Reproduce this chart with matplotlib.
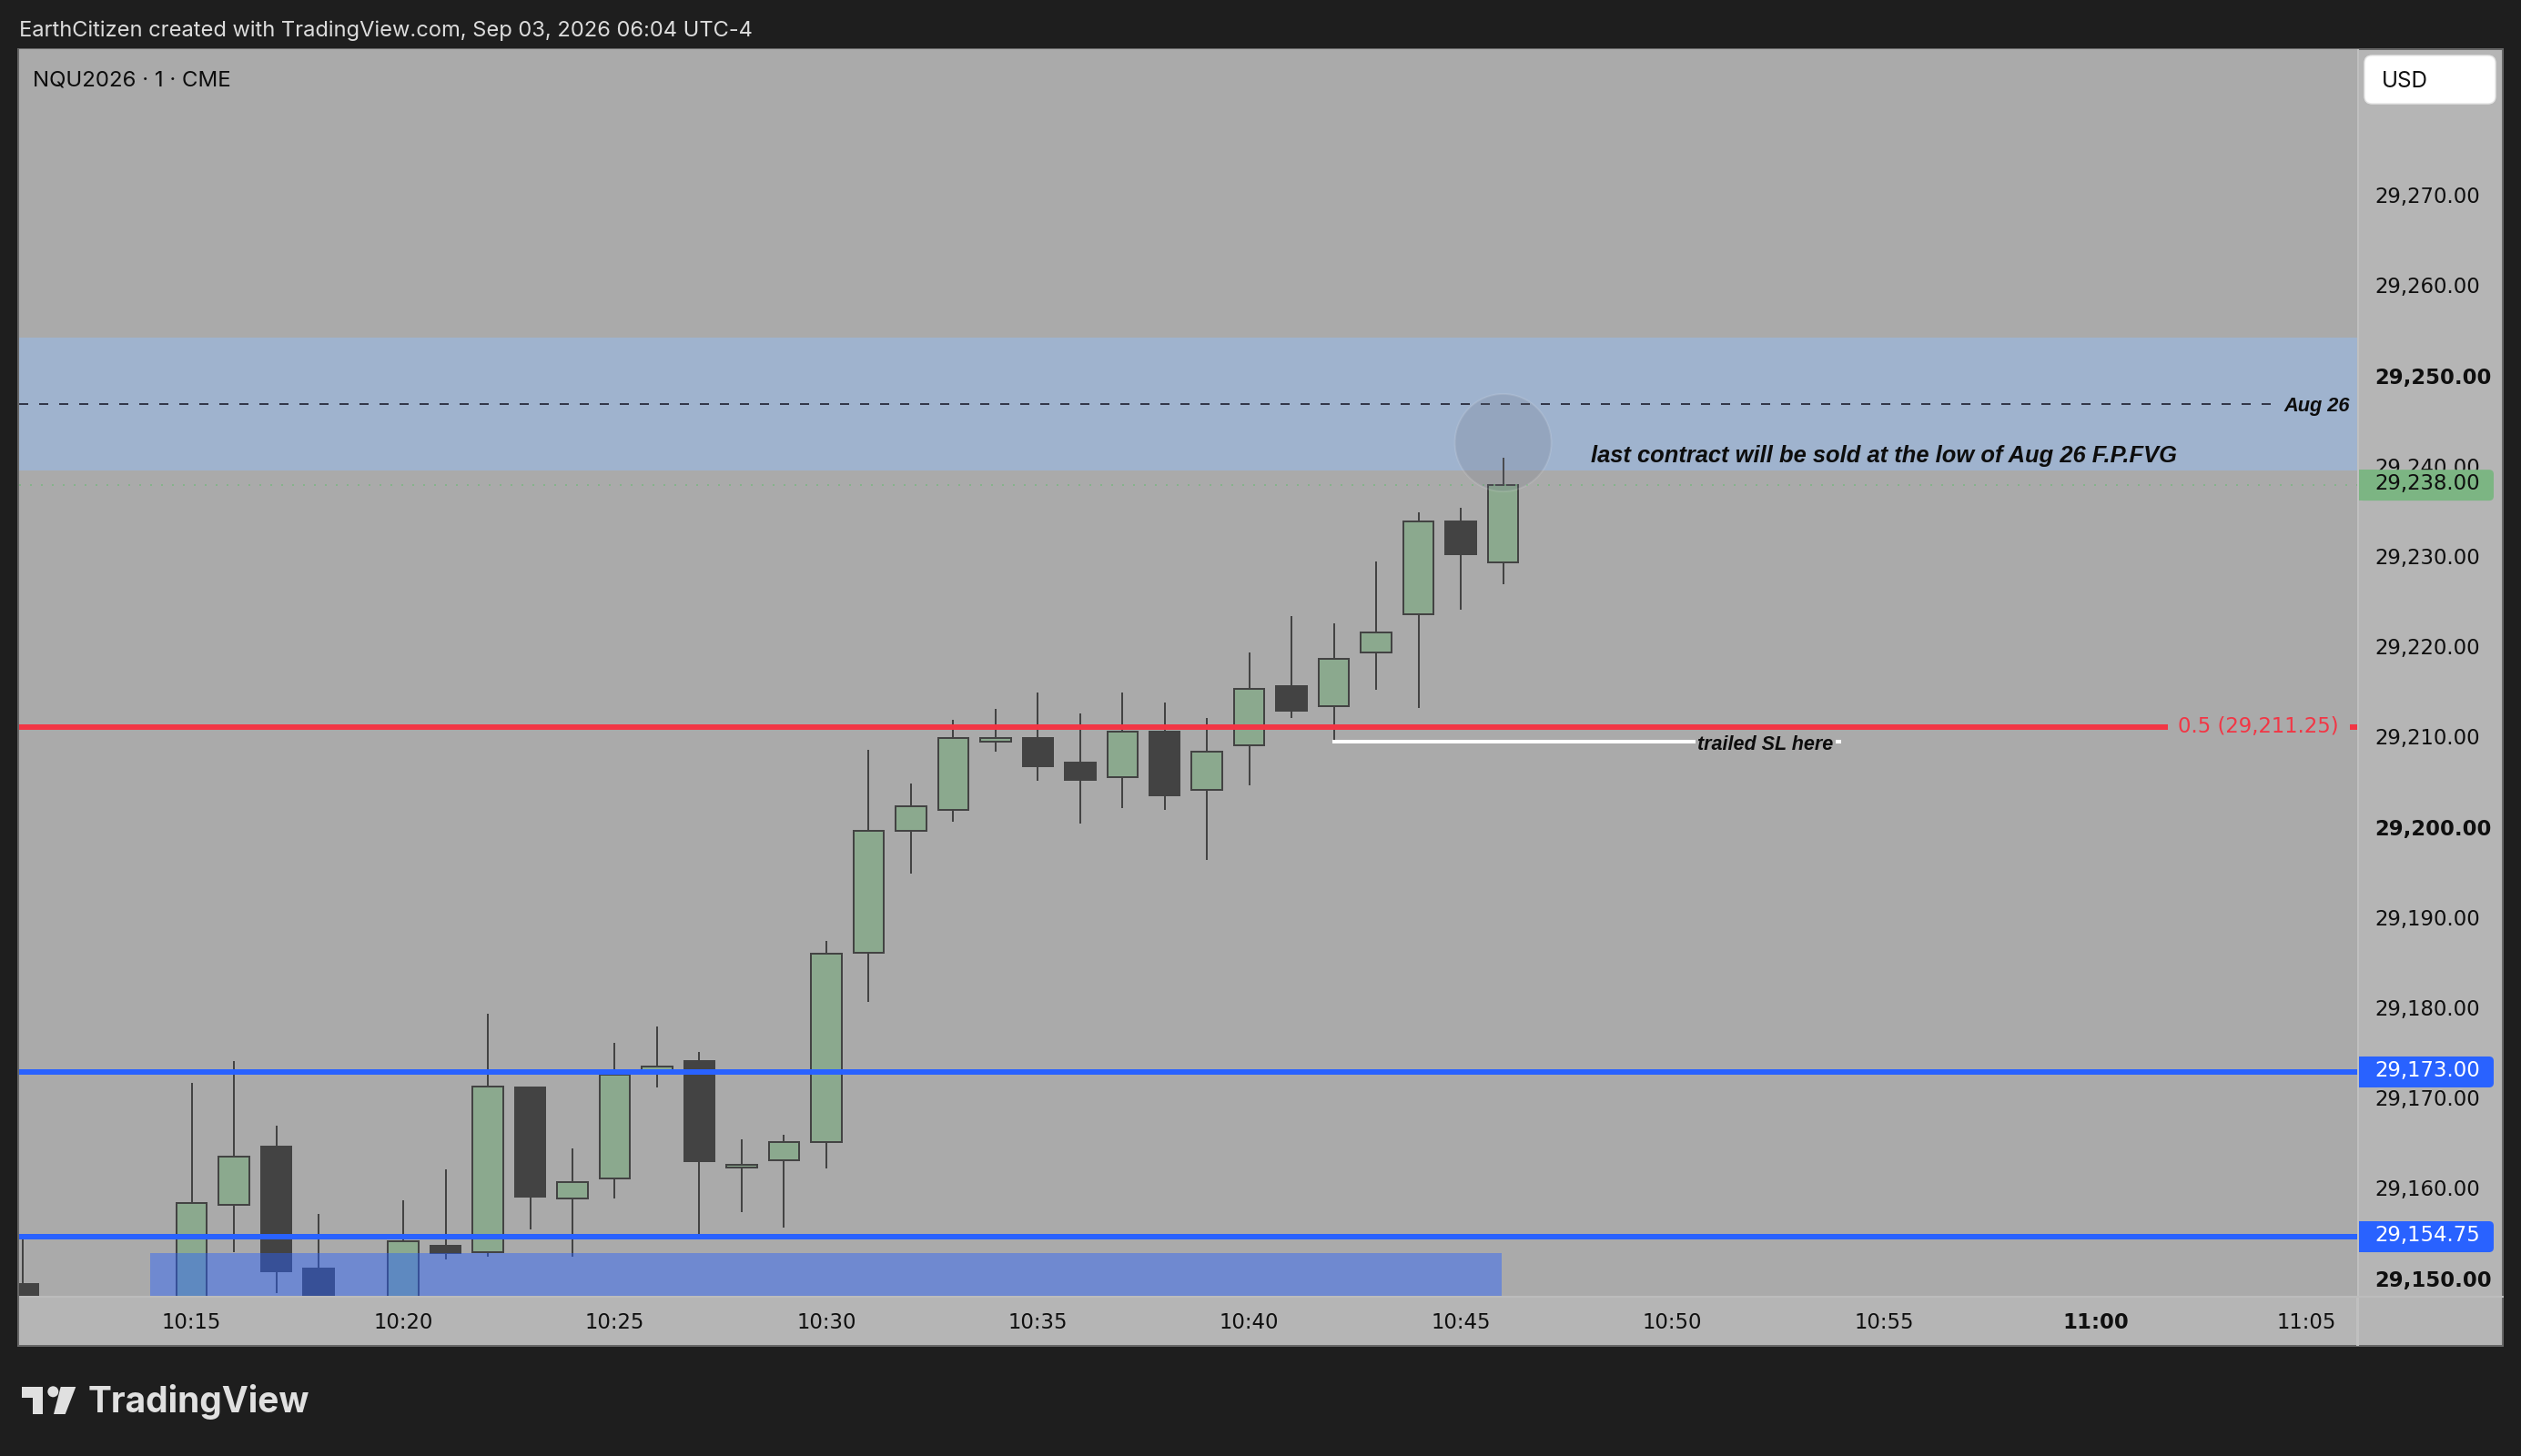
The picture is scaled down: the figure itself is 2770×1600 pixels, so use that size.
import matplotlib
matplotlib.use("Agg")
import matplotlib.pyplot as plt
from matplotlib.patches import Rectangle, Ellipse, FancyBboxPatch, Polygon
from matplotlib.transforms import IdentityTransform, ScaledTranslation

plt.rcParams['font.family'] = ['Inter', 'Liberation Sans', 'DejaVu Sans']

# ---------- data ----------
minutes = [-4, 0, 1, 2, 3, 5, 6, 7, 8, 9, 10, 11, 12, 13, 14, 15, 16, 17, 18, 19, 20, 21, 22, 23, 24, 25, 26, 27, 28, 29, 30, 31]
opens = [29149.5, 29147.0, 29158.25, 29164.75, 29151.2, 29147.0, 29153.75, 29153.0, 29171.3, 29159.0, 29161.25, 29173.0, 29174.2, 29162.4, 29163.2, 29165.2,
         29186.2, 29199.7, 29202.0, 29209.6, 29210.0, 29207.3, 29205.7, 29210.7, 29204.2, 29209.15, 29215.75, 29213.5, 29219.45, 29223.7, 29234.0, 29229.45]
closes = [29146.0, 29158.45, 29163.65, 29150.95, 29147.0, 29154.2, 29152.95, 29171.4, 29159.2, 29160.75, 29172.7, 29173.65, 29163.15, 29162.7, 29165.2, 29186.15,
          29199.7, 29202.4, 29209.95, 29210.0, 29206.9, 29205.35, 29210.7, 29203.65, 29208.45, 29215.4, 29213.0, 29218.75, 29221.65, 29233.95, 29230.4, 29238.0]
highs = [29155.0, 29171.8, 29174.2, 29167.05, 29157.25, 29158.75, 29162.2, 29179.45, 29171.3, 29164.5, 29176.2, 29178.0, 29175.2, 29165.55, 29166.0, 29187.5,
         29208.7, 29205.0, 29212.0, 29213.25, 29215.0, 29212.75, 29215.0, 29213.95, 29212.2, 29219.5, 29223.5, 29222.7, 29229.5, 29235.0, 29235.5, 29241.0]
lows = [29145.0, 29146.0, 29153.0, 29148.5, 29146.0, 29146.0, 29152.2, 29152.5, 29155.55, 29152.5, 29159.0, 29171.3, 29155.0, 29157.5, 29155.75, 29162.3,
        29180.75, 29195.0, 29200.75, 29208.5, 29205.25, 29200.5, 29202.25, 29202.0, 29196.5, 29204.75, 29212.25, 29209.7, 29215.3, 29213.3, 29224.25, 29227.0]

price_ticks = [29150, 29160, 29170, 29180, 29190, 29200, 29210, 29220, 29230, 29240, 29250, 29260, 29270]
price_tick_labels = ['29,150.00', '29,160.00', '29,170.00', '29,180.00', '29,190.00', '29,200.00', '29,210.00',
                     '29,220.00', '29,230.00', '29,240.00', '29,250.00', '29,260.00', '29,270.00']
bold_price_labels = ['29,150.00', '29,200.00', '29,250.00']
time_ticks = [0, 5, 10, 15, 20, 25, 30, 35, 40, 45, 50]
time_tick_labels = ['10:15', '10:20', '10:25', '10:30', '10:35', '10:40', '10:45', '10:50', '10:55', '11:00', '11:05']
bold_time_labels = ['11:00']

fvg_top, fvg_bottom = 29254.3, 29239.65
aug26_level = 29247.0
last_price = 29238.0
fib_level = 29211.25
blue_levels = [29173.0, 29154.75]
trail_level = 29209.6
lower_zone_top = 29152.9

# ---------- colours ----------
DARK = '#1e1e1e'
PANE = '#aaaaaa'
AXISBG = '#b5b5b5'
WICK = '#434343'
UP = '#8ba98e'
BLUE = '#2962ff'
RED = '#f23645'
GREEN_TAG = '#7cb583'
AXISF = ['DejaVu Sans']

W, H = 2770, 1600
fig = plt.figure(figsize=(W / 100, H / 100), dpi=100, facecolor=DARK)
def fx(x): return x / W
def fy(y): return 1 - y / H
px = 0.72  # points per pixel

# outer panel
fig.add_artist(Rectangle((fx(20), fy(1479)), 2730 / W, 1425 / H, transform=fig.transFigure,
                         facecolor=AXISBG, edgecolor='#666666', linewidth=2 * px, zorder=-2))

L, R, T, B = 20.6, 2590.0, 54.0, 1424.0
ax = fig.add_axes([fx(L), fy(B), (R - L) / W, (B - T) / H], facecolor=PANE)
ax.set_xlim(-4.09, 51.19)
ax.set_ylim(29148.2, 29286.3)
for s in ax.spines.values():
    s.set_visible(False)
ax.set_axisbelow(True)

# ticks
ax.yaxis.tick_right()
ax.set_yticks(price_ticks)
ax.set_yticklabels(price_tick_labels, family=AXISF)
ax.set_xticks(time_ticks)
ax.set_xticklabels(time_tick_labels, family=AXISF)
ax.tick_params(axis='both', length=0, labelsize=16.4, labelcolor='#0f0f0f')
ax.tick_params(axis='y', pad=13.6)
ax.tick_params(axis='x', pad=13)
lift = ScaledTranslation(0, 1.5 / 100, fig.dpi_scale_trans)
for lab in ax.get_yticklabels():
    lab.set_transform(lab.get_transform() + lift)
    if lab.get_text() in bold_price_labels:
        lab.set_fontweight('bold')
for lab in ax.get_xticklabels():
    if lab.get_text() in bold_time_labels:
        lab.set_fontweight('bold')

# FVG band
ax.axhspan(fvg_bottom, fvg_top, facecolor='#9fb3ce', edgecolor='none', zorder=1)

# candles
body_w = 0.72
for m, o, c, h, l in zip(minutes, opens, closes, highs, lows):
    ax.vlines(m, l, h, color=WICK, linewidth=2 * px, zorder=3)
    up = c >= o
    ax.add_patch(Rectangle((m - body_w / 2, min(o, c)), body_w, abs(c - o),
                           facecolor=UP if up else WICK, edgecolor=WICK,
                           linewidth=2 * px, zorder=4))

# lower zone
ax.add_patch(Rectangle((-0.99, 29140), 31.96, lower_zone_top - 29140, facecolor=BLUE,
                       alpha=0.45, edgecolor='none', zorder=5))

# level lines
ax.axhline(last_price, color='#7cb583', linewidth=2 * px, linestyle=(0, (1, 5)), alpha=0.8, zorder=5)
ax.plot([-4.09, 49.19], [aug26_level, aug26_level], color='#33384a', linewidth=2 * px,
        linestyle=(0, (5, 6)), zorder=5)
ax.plot([-4.09, 46.71], [fib_level, fib_level], color=RED, linewidth=6 * px, solid_capstyle='butt', zorder=6)
for lv in blue_levels:
    ax.axhline(lv, color=BLUE, linewidth=6 * px, zorder=6)
ax.plot([27, 38.95], [trail_level, trail_level], color='white', linewidth=4 * px, zorder=6)

# circle
ax.add_patch(Ellipse((31, 29242.7), 2.28, 10.8, facecolor=(0.42, 0.44, 0.50, 0.2),
                     edgecolor=(1, 1, 1, 0.12), linewidth=2 * px, zorder=7))

# annotations
TEXTF = ['Liberation Sans', 'DejaVu Sans']
ax.text(33.07, 29241.2, 'last contract will be sold at the low of Aug 26 F.P.FVG', fontsize=18.4,
        family=TEXTF, fontweight='bold', fontstyle='italic', color='#0d0d0d', ha='left', va='center', zorder=8)
ax.text(51.02, 29246.7, 'Aug 26', fontsize=15.7, family=TEXTF, fontweight='bold', fontstyle='italic',
        color='#0d0d0d', ha='right', va='center', zorder=8)
ax.text(35.6, trail_level - 0.35, 'trailed SL here', fontsize=15.5, family=TEXTF, fontweight='bold', fontstyle='italic',
        color='#0d0d0d', ha='left', va='center', zorder=8,
        bbox=dict(facecolor=PANE, edgecolor='none', pad=2))
ax.text(46.95, fib_level, '0.5 (29,211.25)', fontsize=16.4, family=AXISF, color=RED, ha='left', va='center', zorder=8)
ax.plot([51.02, 51.19], [fib_level, fib_level], color=RED, linewidth=6 * px, solid_capstyle='butt', zorder=6)

# separators
ident = IdentityTransform()
fig.add_artist(Rectangle((fx(2589), fy(1479)), 2.6 / W, 1425 / H, transform=fig.transFigure,
                         facecolor='#c0c0c0', edgecolor='none', zorder=-1))
fig.add_artist(Rectangle((fx(L), fy(1426)), 2730 / W, 2 / H, transform=fig.transFigure,
                         facecolor='#bcbcbc', edgecolor='none', zorder=-1))

# price tags
def y_px(price):
    return ax.transData.transform((0, price))[1]

def tag(price, color, text, tc, h=34):
    yc = y_px(price)
    box = FancyBboxPatch((2592 + 4, yc - h / 2 + 4), 148 - 8, h - 8, boxstyle='round,pad=4,rounding_size=5',
                         facecolor=color, edgecolor='none', transform=ident, clip_on=False, zorder=9)
    ax.add_patch(box)
    ax.add_patch(Rectangle((2592, yc - h / 2), 20, h, facecolor=color, edgecolor='none',
                           transform=ident, clip_on=False, zorder=9))
    ax.text(2609, yc + 1.5, text, color=tc, fontsize=16.4, family=AXISF, va='center', ha='left', transform=ident,
            clip_on=False, zorder=10)

tag(last_price, GREEN_TAG, '29,238.00', '#0f0f0f')
tag(blue_levels[0], BLUE, '29,173.00', 'white')
tag(blue_levels[1], BLUE, '29,154.75', 'white')

# USD button
fig.add_artist(FancyBboxPatch((fx(2598), fy(114)), 144 / W, 53 / H, transform=fig.transFigure,
                              boxstyle='round,pad=0,rounding_size=0.003', mutation_aspect=W / H,
                              facecolor='white', edgecolor='#e6e6e6', linewidth=1, zorder=10))
fig.text(fx(2617), fy(90), 'USD', color='#111111', fontsize=17.5, va='center', ha='left', zorder=11)

# header texts
fig.text(fx(20.7), fy(34), 'EarthCitizen created with TradingView.com, Sep 03, 2026 06:04 UTC-4',
         color='#dcdcdc', fontsize=17.05, va='center', ha='left')
fig.text(fx(36), fy(88), 'NQU2026 · 1 · CME', color='#0d0d0d', fontsize=17.3, va='center', ha='left', zorder=11)

# logo
LOGO = '#e0e0e0'
def poly(pts):
    fig.add_artist(Polygon([(fx(x), fy(y)) for x, y in pts], closed=True, transform=fig.transFigure,
                           facecolor=LOGO, edgecolor='none'))
poly([(24, 1524), (47.3, 1524), (47.3, 1554), (36, 1554), (36, 1535.7), (24, 1535.7)])
poly([(66.7, 1524), (83.3, 1524), (71.7, 1554), (59, 1554)])
fig.add_artist(Ellipse((fx(58.3), fy(1529.3)), 12 / W, 12 / H, transform=fig.transFigure, facecolor=LOGO, edgecolor='none'))
fig.text(fx(97), fy(1541), 'TradingView', color=LOGO, fontsize=28, family=['Inter', 'DejaVu Sans'],
         fontweight='bold', va='center', ha='left')

fig.savefig('out.png', dpi=100, facecolor=DARK)
